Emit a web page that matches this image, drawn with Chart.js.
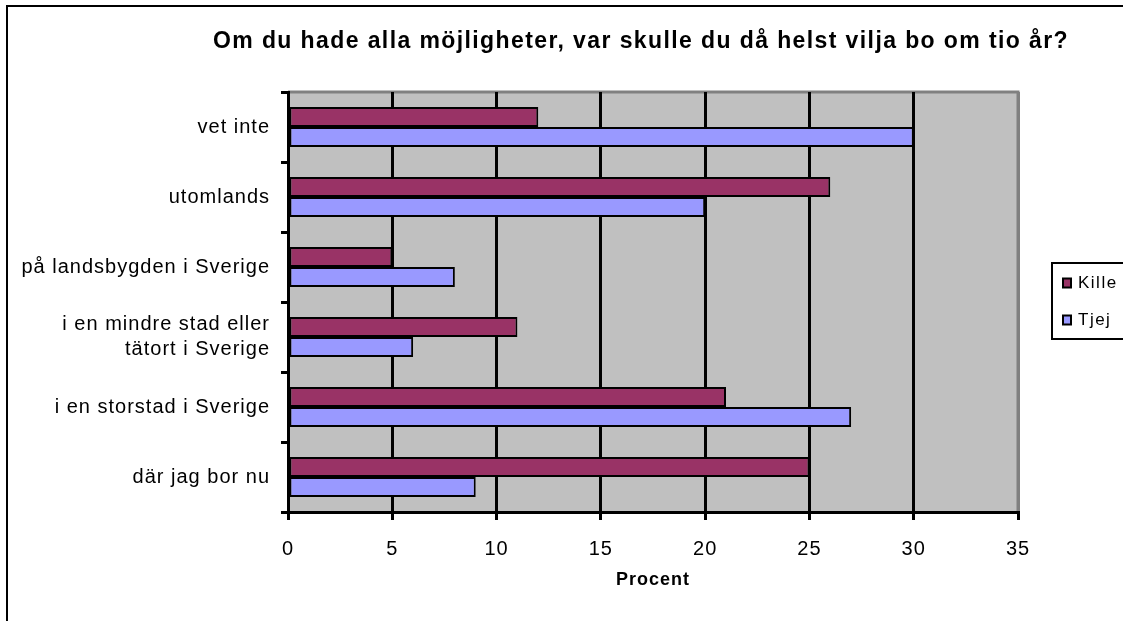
<!DOCTYPE html>
<html>
<head>
<meta charset="utf-8">
<script src="https://cdn.jsdelivr.net/npm/chart.js@4.4.1/dist/chart.umd.min.js"></script>
<style>
  html, body { margin: 0; padding: 0; background: #ffffff; }
  #wrap { width: 1123px; height: 621px; position: relative; }
</style>
</head>
<body>
<div id="wrap"><canvas id="c" width="1123" height="621"></canvas></div>
<script>
const chartTitle = "Om du hade alla möjligheter, var skulle du då helst vilja bo om tio år?";
const axisTitle = "Procent";
const categories = [
  "vet inte",
  "utomlands",
  "på landsbygden i Sverige",
  ["i en mindre stad eller", "tätort i Sverige"],
  "i en storstad i Sverige",
  "där jag bor nu"
];
const seriesNames = ["Kille", "Tjej"];
const killeValues = [12, 26, 5, 11, 21, 25];
const tjejValues = [30, 20, 8, 6, 27, 9];
const xTicks = [0, 5, 10, 15, 20, 25, 30, 35];
const seriesColors = ["#993366", "#9999FF"];

const FONT = 'Arial, "Liberation Sans", sans-serif';

const frame = {
  id: 'frame',
  beforeUpdate(chart) { chart.ctx.letterSpacing = '1px'; },
  beforeDraw(chart) {
    const {ctx, chartArea: a} = chart;
    ctx.letterSpacing = '1px';
    ctx.save();
    ctx.fillStyle = '#C0C0C0';
    ctx.fillRect(a.left, a.top, a.right - a.left, a.bottom - a.top);
    ctx.strokeStyle = '#808080';
    ctx.lineWidth = 3;
    ctx.beginPath();
    ctx.moveTo(a.left, a.top);
    ctx.lineTo(a.right, a.top);
    ctx.lineTo(a.right, a.bottom);
    ctx.stroke();
    // outer chart border (top and left only visible)
    ctx.strokeStyle = '#000';
    ctx.lineWidth = 2;
    ctx.beginPath();
    ctx.moveTo(7, 630);
    ctx.lineTo(7, 6);
    ctx.lineTo(1130, 6);
    ctx.stroke();
    ctx.restore();
  },
  afterDraw(chart) {
    const {ctx} = chart;
    ctx.save();
    // chart title
    ctx.letterSpacing = '1.4px';
    ctx.fillStyle = '#000';
    ctx.font = 'bold 23px ' + FONT;
    ctx.textAlign = 'center';
    ctx.textBaseline = 'alphabetic';
    ctx.fillText(chartTitle, 641, 48);
    // legend
    ctx.letterSpacing = '1.5px';
    const bx = 1052, by = 263, bw = 74, bh = 76;
    ctx.fillStyle = '#fff';
    ctx.fillRect(bx, by, bw, bh);
    ctx.strokeStyle = '#000';
    ctx.lineWidth = 2;
    ctx.strokeRect(bx, by, bw, bh);
    ctx.font = '17px ' + FONT;
    ctx.textBaseline = 'middle';
    ctx.textAlign = 'left';
    chart.data.datasets.forEach((ds, i) => {
      const cy = 283 + i * 37;
      ctx.fillStyle = ds.backgroundColor;
      ctx.fillRect(1063, cy - 4.5, 8, 9);
      ctx.strokeStyle = '#000';
      ctx.lineWidth = 2;
      ctx.strokeRect(1063, cy - 4.5, 8, 9);
      ctx.fillStyle = '#000';
      ctx.fillText(ds.label, 1078, cy);
    });
    ctx.restore();
  }
};

new Chart(document.getElementById('c'), {
  type: 'bar',
  data: {
    labels: categories,
    datasets: [
      { label: seriesNames[0], data: killeValues, backgroundColor: seriesColors[0], borderColor: '#000', borderWidth: 2, borderSkipped: false },
      { label: seriesNames[1], data: tjejValues, backgroundColor: seriesColors[1], borderColor: '#000', borderWidth: 2, borderSkipped: false }
    ]
  },
  options: {
    indexAxis: 'y',
    responsive: false,
    animation: false,
    devicePixelRatio: 1,
    datasets: { bar: { categoryPercentage: 0.57, barPercentage: 1.0 } },
    layout: { padding: { left: 8, right: 105, top: 92, bottom: 0 } },
    plugins: {
      legend: { display: false },
      tooltip: { enabled: false },
      title: { display: false }
    },
    scales: {
      x: {
        type: 'linear',
        min: 0, max: 35,
        afterBuildTicks(scale) { scale.ticks = xTicks.map(v => ({ value: v })); },
        afterFit(scale) { scale.height = 621 - 512; },
        grid: {
          color: ctx => (ctx.tick && ctx.tick.value === 35) ? '#808080' : '#000',
          tickColor: '#000',
          lineWidth: 3,
          tickLength: 8,
          drawOnChartArea: true
        },
        border: { display: true, color: '#000', width: 3 },
        ticks: { color: '#000', font: { family: FONT, size: 20 }, padding: 17, maxRotation: 0 },
        title: {
          display: true, text: axisTitle, color: '#000',
          font: { family: FONT, size: 18, weight: 'bold', lineHeight: 1.2 },
          padding: { top: 0, bottom: 30 }
        }
      },
      y: {
        afterFit(scale) { scale.width = 280; },
        grid: {
          offset: true,
          drawOnChartArea: false,
          drawTicks: true,
          tickLength: 7,
          color: '#000',
          lineWidth: 3
        },
        border: { display: true, color: '#000', width: 3 },
        ticks: { color: '#000', font: { family: FONT, size: 20, lineHeight: 1.22 }, padding: 11, autoSkip: false }
      }
    }
  },
  plugins: [frame]
});
</script>
</body>
</html>
